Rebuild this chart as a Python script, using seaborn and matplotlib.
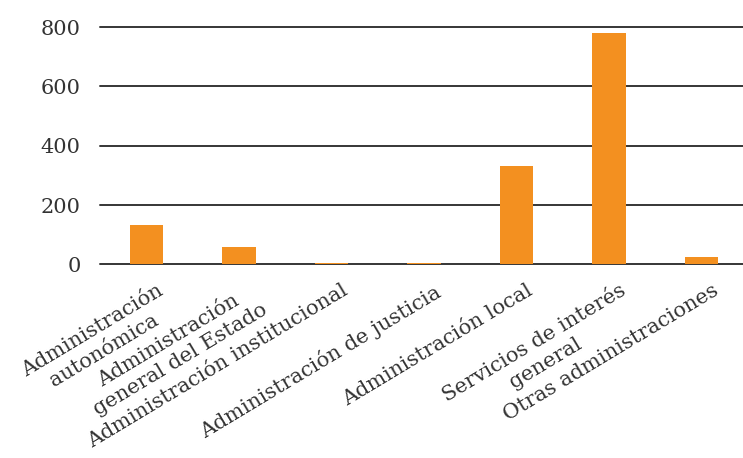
import matplotlib
matplotlib.use("Agg")
import matplotlib.pyplot as plt
import matplotlib.transforms as mtransforms
import seaborn as sns
import pandas as pd

categories = [
    "Administración\nautonómica",
    "Administración\ngeneral del Estado",
    "Administración institucional",
    "Administración de justicia",
    "Administración local",
    "Servicios de interés\ngeneral",
    "Otras administraciones",
]
values = [133, 59, 5, 5, 332, 780, 25]
yticks = [0, 200, 400, 600, 800]

df = pd.DataFrame({"cat": categories, "val": values})

sns.set_theme(style="white")
plt.rcParams["font.family"] = ["DejaVu Serif", "DejaVu Sans"]

fig = plt.figure(figsize=(7.43, 4.58), dpi=100)
ax = fig.add_axes([0.1346, 0.4225, 0.872, 0.5185])
sns.barplot(data=df, x="cat", y="val", color="#F39020", saturation=1,
            width=0.36, linewidth=0, ax=ax, zorder=3)
ax.set_xlim(-0.5, 6.5)
ax.set_ylim(0, 800)
ax.set_yticks(yticks)
ax.set_yticklabels([str(t) for t in yticks], fontsize=15, color="#333333")
for t in yticks:
    ax.axhline(t, color="#363636", lw=1.4, zorder=1, clip_on=False)
for s in ax.spines.values():
    s.set_visible(False)
ax.tick_params(axis="both", length=0)
ax.tick_params(axis="y", pad=14)
ax.set_xlabel("")
ax.set_ylabel("")
ax.set_xticks(range(len(categories)))
ax.set_xticklabels(categories, rotation=31, ha="right", rotation_mode="anchor",
                   multialignment="center", fontsize=15, color="#333333",
                   linespacing=1.25)
ax.tick_params(axis="x", pad=12)
offset = mtransforms.ScaledTranslation(0.10, 0, fig.dpi_scale_trans)
for lbl in ax.get_xticklabels():
    lbl.set_transform(lbl.get_transform() + offset)
fig.savefig("out.png", dpi=100)
